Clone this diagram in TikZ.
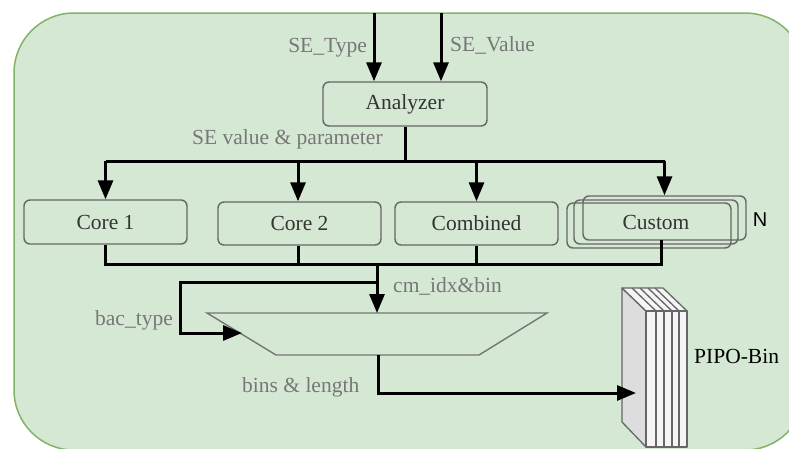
\documentclass[tikz,border=0pt]{standalone}
\usepackage{fontspec}
\setmainfont{Liberation Serif}
\newfontfamily\arialfont{Liberation Sans}
\usetikzlibrary{arrows.meta}
\definecolor{panelfill}{HTML}{D5E8D4}
\definecolor{panelline}{HTML}{82B366}
\definecolor{boxline}{HTML}{666666}
\definecolor{boxtext}{HTML}{333333}
\definecolor{labeltext}{HTML}{777777}
\definecolor{faceleft}{HTML}{DDDDDD}
\definecolor{facefront}{HTML}{F5F5F5}
\tikzset{
  txt/.style={font=\fontsize{21.5}{25}\selectfont},
  unit/.style={txt, draw=boxline, line width=1.4pt, rounded corners=6pt,
    text=boxtext, inner sep=0pt},
  lbl/.style={txt, text=labeltext, inner sep=0pt},
  wire/.style={line width=3pt, black},
  arr/.style={wire, -{Triangle[length=19pt,width=15pt]}},
}
\begin{document}
\begin{tikzpicture}[x=1pt,y=-1pt]
\useasboundingbox (0,0) rectangle (789,448);
\clip (0,0) rectangle (789,448);

% panel
\draw[fill=panelfill, draw=panelline, line width=1.5pt, rounded corners=60pt]
  (14,13) rectangle (805,450);

% processing units
\node[unit, minimum width=164pt, minimum height=44pt] (ana) at (405,104) {Analyzer};
\node[unit, minimum width=163pt, minimum height=44pt] (c1) at (105.5,222) {Core 1};
\node[unit, minimum width=163pt, minimum height=43pt] (c2) at (299.5,223.5) {Core 2};
\node[unit, minimum width=163pt, minimum height=43pt] (cb) at (476.5,223.5) {Combined};
\node[unit, minimum width=163pt, minimum height=44pt] (cu3) at (664.5,218) {};
\node[unit, minimum width=164pt, minimum height=44pt] (cu2) at (656,222) {Custom};
\node[unit, minimum width=164pt, minimum height=45pt] (cu1) at (649,225.5) {};
\node[font=\arialfont\fontsize{20}{24}\selectfont, inner sep=0pt] (n) at (760,219.5) {N};

% inputs
\coordinate (inT) at (374,13);
\coordinate (inV) at (441,13);
\draw[arr] (inT) -- (inT |- ana.north);
\draw[arr] (inV) -- (inV |- ana.north);
\node[lbl, anchor=base east] (lT) at (367,52) {SE\_Type};
\node[lbl, anchor=base west] (lV) at (450,51) {SE\_Value};

% distribution bus
\coordinate (split) at (405,161);
\draw[wire] (ana.south) -- (split);
\draw[wire] (c1.north |- split) -- (cu3.north |- split);
\draw[arr] (c1.north |- split) -- (c1.north);
\draw[arr] ([xshift=-1.5pt]c2.north |- split) -- ([xshift=-1.5pt]c2.north);
\draw[arr] (cb.north |- split) -- (cb.north);
\draw[arr] (cu3.north |- split) -- (cu3.north);
\node[lbl, anchor=base west] (lSE) at (192,144) {SE value \& parameter};

% collection bus
\coordinate (merge) at (377,264);
\coordinate (cuout) at (661,240);
\draw[wire] (c1.south) -- (c1.south |- merge) -- (cuout |- merge) -- (cuout);
\draw[wire] ([xshift=-1.5pt]c2.south) -- ([xshift=-1.5pt]c2.south |- merge);
\draw[wire] (cb.south) -- (cb.south |- merge);

% selector
\coordinate (mtl) at (207,313);
\coordinate (mtr) at (547,313);
\coordinate (mbr) at (479,355);
\coordinate (mbl) at (276,355);
\draw[draw=boxline!90, line width=1.4pt, line join=miter] (mtl) -- (mtr) -- (mbr) -- (mbl) -- cycle;
\draw[arr] (merge) -- (merge |- mtl);
\node[lbl, anchor=base west] (lcm) at (393,292) {cm\_idx\&bin};

\coordinate (tap) at (377,282);
\coordinate (bacin) at (242,333);
\draw[arr] (tap) -- (180,282) |- (bacin);
\node[lbl, anchor=base west] (lbac) at (95,325) {bac\_type};

% PIPO register stack
\begin{scope}[draw=boxline, line width=1.3pt, line join=round]
  \filldraw[fill=faceleft] (622,288) -- (646,311) -- (646,447) -- (622,422) -- cycle;
  \filldraw[fill=facefront] (622,288) -- (663,288) -- (687,311) -- (646,311) -- cycle;
  \foreach \a/\b in {646/656,656/664,664/672,672/679,679/687}
    \filldraw[fill=facefront] (\a,311) rectangle (\b,447);
  \foreach \t/\b in {632/656,640/664,648/672,655/679}
    \draw (\t,288) -- (\b,311);
\end{scope}
\node[txt, anchor=base west, inner sep=0pt] (lpipo) at (694,363) {PIPO-Bin};

% output to register bank
\coordinate (muxout) at (378,355);
\coordinate (pipoin) at (636,393);
\draw[arr] (muxout) |- (pipoin);
\node[lbl, anchor=base west] (lbl) at (242,392) {bins \& length};
\end{tikzpicture}
\end{document}
